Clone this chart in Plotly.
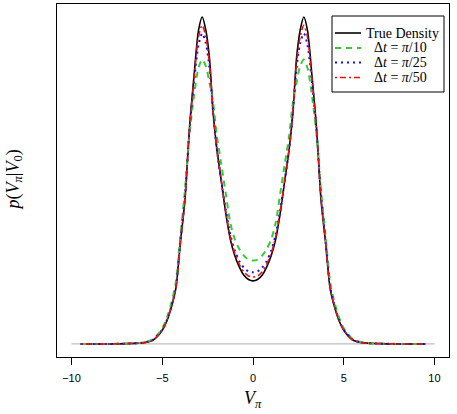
import plotly.graph_objects as go

v_pi = [-9.5, -8, -7, -6, -5.5, -5, -4.75, -4.5, -4.25, -4, -3.75, -3.5, -3.25, -3, -2.8, -2.6, -2.4, -2.2, -2, -1.75, -1.5, -1.25, -1, -0.75, -0.5, -0.25,
        0,
        0.25, 0.5, 0.75, 1, 1.25, 1.5, 1.75, 2, 2.2, 2.4, 2.6, 2.8, 3, 3.25, 3.5, 3.75, 4, 4.25, 4.5, 4.75, 5, 5.5, 6, 7, 8, 9.5]

true_density = [0, 0, 0.001, 0.004, 0.012, 0.042, 0.07, 0.112, 0.17, 0.31, 0.44, 0.66, 0.82, 0.96, 1.0, 0.96, 0.875, 0.71, 0.60, 0.50, 0.40, 0.32, 0.27, 0.235, 0.21, 0.197,
                0.193,
                0.197, 0.21, 0.235, 0.27, 0.32, 0.40, 0.50, 0.60, 0.71, 0.875, 0.96, 1.0, 0.96, 0.82, 0.66, 0.44, 0.31, 0.17, 0.112, 0.07, 0.042, 0.012, 0.004, 0.001, 0, 0]

dt_pi_10 = [0, 0, 0.001, 0.005, 0.015, 0.048, 0.08, 0.125, 0.19, 0.33, 0.47, 0.64, 0.76, 0.845, 0.87, 0.85, 0.80, 0.74, 0.64, 0.55, 0.46, 0.37, 0.32, 0.29, 0.27, 0.258,
            0.255,
            0.258, 0.27, 0.29, 0.32, 0.37, 0.46, 0.55, 0.64, 0.74, 0.80, 0.85, 0.87, 0.845, 0.76, 0.64, 0.47, 0.33, 0.19, 0.125, 0.08, 0.048, 0.015, 0.005, 0.001, 0, 0]

dt_pi_25 = [0, 0, 0.001, 0.004, 0.013, 0.044, 0.072, 0.115, 0.175, 0.315, 0.45, 0.655, 0.80, 0.915, 0.95, 0.92, 0.845, 0.71, 0.60, 0.50, 0.41, 0.335, 0.285, 0.253, 0.233, 0.222,
            0.219,
            0.222, 0.233, 0.253, 0.285, 0.335, 0.41, 0.50, 0.60, 0.71, 0.845, 0.92, 0.95, 0.915, 0.80, 0.655, 0.45, 0.315, 0.175, 0.115, 0.072, 0.044, 0.013, 0.004, 0.001, 0, 0]

dt_pi_50 = [0, 0, 0.001, 0.004, 0.012, 0.043, 0.071, 0.113, 0.172, 0.312, 0.445, 0.658, 0.81, 0.94, 0.975, 0.94, 0.86, 0.71, 0.60, 0.50, 0.405, 0.327, 0.277, 0.243, 0.22, 0.208,
            0.205,
            0.208, 0.22, 0.243, 0.277, 0.327, 0.405, 0.50, 0.60, 0.71, 0.86, 0.94, 0.975, 0.94, 0.81, 0.658, 0.445, 0.312, 0.172, 0.113, 0.071, 0.043, 0.012, 0.004, 0.001, 0, 0]

baseline_x = [-10, 10]
baseline_y = [0, 0]

x_ticks = [-10, -5, 0, 5, 10]
x_tick_text = ["−10", "−5", "0", "5", "10"]
series_names = ["True Density", "Δ<i>t</i> = <i>π</i>/10", "Δ<i>t</i> = <i>π</i>/25", "Δ<i>t</i> = <i>π</i>/50"]

serif = "Liberation Serif, DejaVu Serif, serif"
sans = "Liberation Sans, Arial, sans-serif"

colors = ["black", "#33CC33", "#1010EE", "#EE1010"]
widths = [1.6, 2, 2, 1.6]
dashes = ["solid", "6px,5px", "2px,4px", "2px,3px,6px,3px"]
series = [true_density, dt_pi_10, dt_pi_25, dt_pi_50]

W, H = 457, 414
ML, MR, MT, MB = 57, 8, 4, 57
PW, PH = W - ML - MR, H - MT - MB


def px(xp):
    return (xp - ML) / PW


def py(yp):
    return (H - MB - yp) / PH


fig = go.Figure()

fig.add_trace(go.Scatter(x=baseline_x, y=baseline_y, mode="lines",
                         line=dict(color="#BEBEBE", width=1.2), showlegend=False, hoverinfo="skip"))

for name, ys, c, w, d in zip(series_names, series, colors, widths, dashes):
    fig.add_trace(go.Scatter(x=v_pi, y=ys, mode="lines", name=name, showlegend=False,
                             line=dict(color=c, width=w, dash=d, shape="spline", smoothing=0.8)))

# manual legend (box, keys, labels)
shapes = [dict(type="rect", xref="paper", yref="paper",
               x0=px(332), x1=px(444), y0=py(92), y1=py(16),
               line=dict(color="black", width=1), fillcolor="white", layer="above")]
annotations = []
rows = [33, 48, 62.5, 77.5]
text_left = [364, 372, 372, 372]
for name, c, w, d, ry, tl in zip(series_names, colors, widths, dashes, rows, text_left):
    shapes.append(dict(type="line", xref="paper", yref="paper",
                       x0=px(335), x1=px(361), y0=py(ry), y1=py(ry),
                       line=dict(color=c, width=w, dash=d), layer="above"))
    annotations.append(dict(text=name, xref="paper", yref="paper", x=px(tl), y=py(ry),
                            xanchor="left", yanchor="middle", showarrow=False,
                            font=dict(family=serif, size=14, color="black")))

annotations.append(dict(text="<i>V</i><sub><i>π</i></sub>", xref="paper", yref="paper",
                        x=0.5, y=py(399), xanchor="center", yanchor="middle",
                        showarrow=False, font=dict(family=serif, size=18, color="black")))
annotations.append(dict(text="<i>p</i>(<i>V</i><sub><i>π</i></sub>|<i>V</i><sub>0</sub>)", xref="paper", yref="paper",
                        x=px(14), y=0.5, xanchor="center", yanchor="middle", textangle=-90,
                        showarrow=False, font=dict(family=serif, size=18, color="black")))

fig.update_layout(
    width=W, height=H,
    margin=dict(l=ML, r=MR, t=MT, b=MB),
    paper_bgcolor="white", plot_bgcolor="white",
    showlegend=False,
    xaxis=dict(range=[-10.8, 10.8], tickvals=x_ticks, ticktext=x_tick_text,
               showgrid=False, zeroline=False, showline=True, mirror=True,
               linecolor="black", linewidth=1, ticks="outside", ticklen=7, tickcolor="black",
               tickfont=dict(family=sans, size=11, color="black"), ticklabelstandoff=4),
    yaxis=dict(range=[-0.04, 1.04], showticklabels=False, ticks="",
               showgrid=False, zeroline=False, showline=True, mirror=True,
               linecolor="black", linewidth=1),
    shapes=shapes,
    annotations=annotations,
)

fig.write_html("out.html")
